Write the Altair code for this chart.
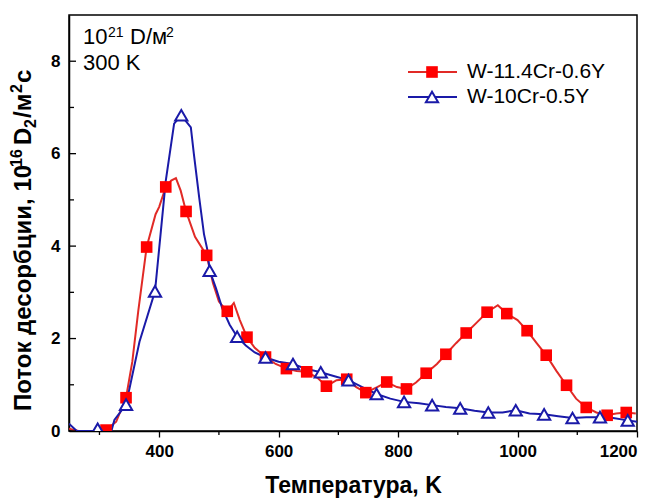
import altair as alt
import pandas as pd

# Thermal desorption spectra: deuterium flux vs temperature
# W-11.4Cr-0.6Y (red squares)
red_mark_T = [311, 344.5, 379, 411, 445, 479.5, 514, 547, 578, 613, 647, 680, 714, 746,
              781, 814, 847, 880, 914, 949, 982, 1016, 1048, 1082, 1115, 1150, 1182]
red_mark_v = [0.02, 0.72, 3.98, 5.28, 4.75, 3.80, 2.59, 2.03, 1.60, 1.35, 1.28, 0.97, 1.12, 0.83,
              1.06, 0.91, 1.25, 1.66, 2.12, 2.57, 2.54, 2.17, 1.64, 0.99, 0.51, 0.34, 0.40]
red_line_T = [249, 265, 290, 328, 355, 365, 394, 400, 420, 428, 436, 460, 490, 500, 525, 535,
              560, 595, 630, 665, 697, 730, 765, 798, 830, 865, 897, 932, 967, 1000, 1032,
              1065, 1098, 1132, 1165, 1198]
red_line_v = [0.05, 0.0, 0.0, 0.2, 1.5, 2.6, 4.69, 4.85, 5.42, 5.47, 5.2, 4.2, 3.2, 2.8, 2.77, 2.4,
              1.8, 1.45, 1.3, 1.15, 1.1, 0.95, 0.95, 0.95, 1.05, 1.45, 1.9, 2.35, 2.72, 2.4, 1.9,
              1.3, 0.7, 0.4, 0.38, 0.38]

# W-10Cr-0.5Y (blue open triangles)
blue_mark_T = [297, 344.5, 393, 437, 484.5, 530.5, 578, 624, 670.5, 717, 764, 810, 857, 904,
               951, 997, 1044.5, 1092, 1138, 1184.5]
blue_mark_v = [0.05, 0.57, 3.02, 6.83, 3.47, 2.04, 1.59, 1.45, 1.27, 1.10, 0.80, 0.63, 0.56, 0.49,
               0.40, 0.45, 0.36, 0.28, 0.30, 0.23]
blue_line_T = [249, 262, 290, 320, 325, 367, 411, 425, 453, 458, 467, 475, 480.5,
               495, 505.5, 518, 545, 560, 600, 645, 695, 740, 787, 835, 880, 928, 975, 1020,
               1068, 1115, 1160, 1200]
blue_line_v = [0.16, 0.0, 0.0, 0.0, 0.24, 1.93, 5.41, 6.65, 6.57, 6.0, 5.05, 4.26, 3.93,
               3.09, 2.66, 2.3, 1.85, 1.7, 1.5, 1.35, 1.18, 0.95, 0.70, 0.60, 0.52, 0.44, 0.40, 0.38,
               0.32, 0.30, 0.28, 0.20]

series_names = ["W-11.4Cr-0.6Y", "W-10Cr-0.5Y"]

x_major = [400, 600, 800, 1000, 1200]
x_minor = [300, 500, 700, 900, 1100]
y_major = [0, 2, 4, 6, 8]
y_minor = [1, 3, 5, 7]

RED_LINE = "#e12a26"
RED = "#ff0000"
BLUE = "#1a1aa8"
FONT = "Liberation Sans"

W, H = 568, 416


def curve(mT, mv, lT, lv):
    df = pd.concat([pd.DataFrame({"T": mT, "v": mv}), pd.DataFrame({"T": lT, "v": lv})])
    return df.sort_values("T").reset_index(drop=True)


red_curve = curve(red_mark_T, red_mark_v, red_line_T, red_line_v)
blue_curve = curve(blue_mark_T, blue_mark_v, blue_line_T, blue_line_v)
red_pts = pd.DataFrame({"T": red_mark_T, "v": red_mark_v})
blue_pts = pd.DataFrame({"T": blue_mark_T, "v": blue_mark_v})

xs = alt.Scale(domain=[249, 1200], nice=False, zero=False)
ys = alt.Scale(domain=[0, 9], nice=False)

x_enc = alt.X("T:Q", scale=xs, axis=alt.Axis(
    values=x_major, format="d", title="Температура, K", titleFontSize=23,
    titleFontWeight="bold", titleFont=FONT, titlePadding=15, titleColor="black",
    labelFont=FONT, labelFontSize=17, labelFontWeight="bold", labelColor="black",
    labelPadding=6, tickSize=6, tickColor="black", tickWidth=1.3, domainColor="black",
    domainWidth=1.5, grid=False))
y_enc = alt.Y("v:Q", scale=ys, axis=alt.Axis(
    values=y_major, format="d", title=None, labelFont=FONT, labelFontSize=17,
    labelFontWeight="bold", labelColor="black", labelPadding=9, ticks=False,
    domainColor="black", domainWidth=1.5, grid=False))

red_line = alt.Chart(red_curve).mark_line(color=RED_LINE, strokeWidth=2, clip=True).encode(
    x=x_enc, y=y_enc, order="T:Q")
blue_line = alt.Chart(blue_curve).mark_line(color=BLUE, strokeWidth=2, clip=True).encode(
    x="T:Q", y="v:Q", order="T:Q")
red_sq = alt.Chart(red_pts).mark_point(shape="square", filled=True, color=RED, size=135,
                                       opacity=1, clip=True).encode(x="T:Q", y="v:Q")
blue_tri = alt.Chart(blue_pts).mark_point(shape="triangle-up", filled=True, fill="white",
                                          stroke=BLUE, strokeWidth=2, size=150, opacity=1,
                                          clip=True).encode(x="T:Q", y="v:Q")

# bottom minor ticks (outward); left ticks point inward
xminor = alt.Chart(pd.DataFrame({"T": x_minor})).mark_rule(color="black", strokeWidth=1.3).encode(
    x="T:Q", y=alt.value(H), y2=alt.value(H + 4))
ymajor = alt.Chart(pd.DataFrame({"v": y_major})).mark_rule(color="black", strokeWidth=1.3).encode(
    y="v:Q", x=alt.value(0), x2=alt.value(7))
yminor = alt.Chart(pd.DataFrame({"v": y_minor})).mark_rule(color="black", strokeWidth=1.3).encode(
    y="v:Q", x=alt.value(0), x2=alt.value(5))


def label(text, px, py, size, weight="normal", angle=0):
    return alt.Chart(pd.DataFrame({"t": [text]})).mark_text(
        align="left", baseline="alphabetic", font=FONT, fontSize=size, fontWeight=weight,
        color="black", angle=angle).encode(x=alt.value(px), y=alt.value(py), text="t:N")


# fluence / temperature note in the corner
notes = [
    label("10", 14, 29, 22),
    label("21", 39, 22, 14),
    label("D/м", 61, 29, 22),
    label("2", 97, 22, 14),
    label("300 K", 14, 55, 22),
]

# vertical axis title, built from pieces so the indices stay readable
ytitle = [
    label("Поток десорбции, 10", -38, 396, 24, "bold", 270),
    label("16", -47, 152, 16, "bold", 270),
    label("D", -38, 130, 24, "bold", 270),
    label("2", -33, 113, 16, "bold", 270),
    label("/м", -38, 103, 24, "bold", 270),
    label("2", -47, 78, 16, "bold", 270),
    label("с", -38, 68, 24, "bold", 270),
]

# legend
leg = pd.DataFrame({"lab": series_names, "py": [57, 82]})
leg_red_rule = alt.Chart(leg.iloc[[0]]).mark_rule(color=RED_LINE, strokeWidth=2).encode(
    x=alt.value(339), x2=alt.value(388), y=alt.Y("py:Q", scale=None))
leg_blue_rule = alt.Chart(leg.iloc[[1]]).mark_rule(color=BLUE, strokeWidth=2).encode(
    x=alt.value(339), x2=alt.value(388), y=alt.Y("py:Q", scale=None))
leg_red_pt = alt.Chart(leg.iloc[[0]]).mark_point(shape="square", filled=True, color=RED,
                                                size=135, opacity=1).encode(
    x=alt.value(363), y=alt.Y("py:Q", scale=None))
leg_blue_pt = alt.Chart(leg.iloc[[1]]).mark_point(shape="triangle-up", filled=True,
                                                 fill="white", stroke=BLUE, strokeWidth=2,
                                                 size=150, opacity=1).encode(
    x=alt.value(363), y=alt.Y("py:Q", scale=None))
leg_text = alt.Chart(leg).mark_text(align="left", baseline="middle", font=FONT,
                                    fontSize=21, color="black").encode(
    x=alt.value(398), y=alt.Y("py:Q", scale=None), text="lab:N")

chart = alt.layer(
    red_line, blue_line, red_sq, blue_tri, xminor, ymajor, yminor, *notes, *ytitle,
    leg_red_rule, leg_blue_rule, leg_red_pt, leg_blue_pt, leg_text
).properties(
    width=W, height=H,
    autosize=alt.AutoSizeParams(type="none"),
    padding={"left": 69, "top": 15, "right": 22, "bottom": 67},
    background="white",
).configure_view(stroke="black", strokeWidth=1.5)

chart.save("out.html", embed_options={"renderer": "svg", "actions": False})
